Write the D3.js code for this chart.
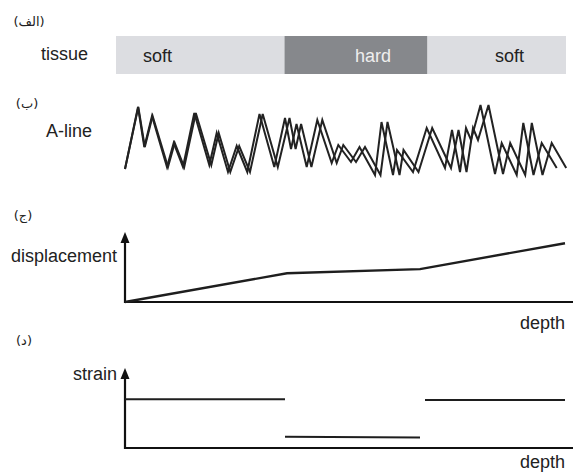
<!DOCTYPE html>
<html>
<head>
<meta charset="utf-8">
<script src="https://cdn.jsdelivr.net/npm/d3@7/dist/d3.min.js"></script>
<style>
  html, body { margin: 0; padding: 0; background: #fff; }
  svg { display: block; }
  text { font-family: "Liberation Sans", Arial, Helvetica, sans-serif; fill: #222; }
  .tag { font-family: "DejaVu Sans", sans-serif; font-size: 13px; }
</style>
</head>
<body>
<svg id="chart" width="573" height="472"></svg>
<script>
// Tissue layout along depth (arbitrary depth units)
const tissueTypes = ["soft", "hard", "soft"];
const tissueFrom  = [-0.9, 15.95, 30.25];
const tissueTo    = [15.95, 30.25, 44.1];

// A-line echo before compression: depth and amplitude of each vertex
const preDepth = [0, 1.3, 1.93, 2.7, 4.2, 4.87, 5.8, 6.93, 8.43, 9.17, 10.3, 11.17, 12.23, 13.45,
  14.93, 16.0, 16.6, 17.15, 18.17, 19.23, 20.67, 21.33, 22.6, 23.45, 25.0, 25.65, 26.8, 27.2,
  28.8, 30.17, 32.0, 32.7, 33.5, 34.1, 34.6, 35.55, 37.0, 37.67, 39.17, 39.83, 40.85, 41.67, 43.17];
const amplitude = [-29, 33, -7, 24, -27, -3, -27, 27, -25, 7, -32, -6, -32, 26,
  -27, 22, -9, 16, -27, 20, -23, -5, -22, -7, -35, 18, -35, -10,
  -32, 12, -28, 10, -32, 12, 0, 35, -34, -3, -35, 17, -35, -3, -28];
// Same echo after compression (shifted deeper)
const postDepth = [0, 1.33, 1.98, 2.76, 4.3, 4.97, 5.92, 7.08, 8.63, 9.37, 10.53, 11.42, 12.5, 13.77,
  15.28, 16.45, 17.06, 17.61, 18.64, 19.73, 21.17, 21.83, 23.1, 24.0, 25.55, 26.25, 27.45, 27.85,
  29.35, 30.72, 32.6, 33.35, 34.15, 34.8, 35.3, 36.35, 37.8, 38.52, 40.02, 40.68, 41.75, 42.67, 44.12];

// Displacement versus depth
const dispDepth = [0, 16.2, 29.5, 44];
const dispValue = [0, 4.1, 4.7, 8.4];

// Strain per tissue section
const strainFrom  = [0, 16, 30];
const strainTo    = [16, 29.5, 44];
const strainStart = [6.1, 1.4, 6.0];
const strainEnd   = [6.1, 1.3, 6.0];

// Panel tags and axis labels
const panelTags = ["(الف)", "(ب)", "(ج)", "(د)"];
const rowLabels = ["tissue", "A-line", "displacement", "strain"];
const depthLabel = "depth";

const svg = d3.select("#chart");
const ink = "#1e1e1e";

const x = d3.scaleLinear().domain([-1, 44]).range([115, 565]);

// ---- (a) tissue bar
const barTop = 36, barH = 38;
const tissueColor = { soft: "#dcdde1", hard: "#86888c" };
const tissueTextColor = { soft: "#222", hard: "#eeeeee" };
const tissueLabelDepth = [1.8, 23.0, 37.0];

svg.append("g").selectAll("rect")
  .data(tissueTypes)
  .join("rect")
  .attr("x", (d, i) => x(tissueFrom[i]))
  .attr("y", barTop)
  .attr("width", (d, i) => x(tissueTo[i]) - x(tissueFrom[i]))
  .attr("height", barH)
  .attr("fill", d => tissueColor[d]);

svg.append("g").selectAll("text")
  .data(tissueTypes)
  .join("text")
  .attr("x", (d, i) => x(tissueLabelDepth[i]))
  .attr("y", 62)
  .attr("font-size", 18)
  .style("fill", d => tissueTextColor[d])
  .text(d => d);

// ---- (b) A-line echoes
const yA = d3.scaleLinear().domain([-40, 40]).range([180, 100]);
const aLine = d3.line().x(d => x(d[0])).y(d => yA(d[1]));
const preTrace = preDepth.map((d, i) => [d, amplitude[i]]);
const postTrace = postDepth.map((d, i) => [d, amplitude[i]]);

svg.append("g").selectAll("path")
  .data([preTrace, postTrace])
  .join("path")
  .attr("d", aLine)
  .attr("fill", "none")
  .attr("stroke", "#222")
  .attr("stroke-width", 2)
  .attr("stroke-linejoin", "miter");

// ---- axes helper
function drawAxes(y, xEnd) {
  const g = svg.append("g");
  const x0 = x(0), y0 = y(0), yTop = y(10);
  g.append("line")
    .attr("x1", x0).attr("x2", x0)
    .attr("y1", y0 + 1).attr("y2", yTop + 9)
    .attr("stroke", "#111").attr("stroke-width", 2.2);
  g.append("line")
    .attr("x1", x0 - 1).attr("x2", xEnd)
    .attr("y1", y0).attr("y2", y0)
    .attr("stroke", "#111").attr("stroke-width", 2.2);
  g.append("path")
    .attr("d", `M${x0},${yTop} L${x0 + 4.5},${yTop + 11} L${x0 - 4.5},${yTop + 11} Z`)
    .attr("fill", "#111");
}

// ---- (c) displacement
const yD = d3.scaleLinear().domain([0, 10]).range([302, 232]);
drawAxes(yD, 573);
svg.append("path")
  .datum(dispDepth.map((d, i) => [d, dispValue[i]]))
  .attr("d", d3.line().x(d => x(d[0])).y(d => yD(d[1])))
  .attr("fill", "none")
  .attr("stroke", ink)
  .attr("stroke-width", 2.4);

// ---- (d) strain
const yS = d3.scaleLinear().domain([0, 10]).range([448, 368]);
drawAxes(yS, 573);
svg.append("g").selectAll("line")
  .data(strainFrom)
  .join("line")
  .attr("x1", (d, i) => x(strainFrom[i]))
  .attr("x2", (d, i) => x(strainTo[i]))
  .attr("y1", (d, i) => yS(strainStart[i]))
  .attr("y2", (d, i) => yS(strainEnd[i]))
  .attr("stroke", ink)
  .attr("stroke-width", 2);

// ---- labels
const tagPos = [[29, 26], [27, 108], [23, 220], [24, 345]];
svg.append("g").selectAll("text")
  .data(panelTags)
  .join("text")
  .attr("class", "tag")
  .attr("x", (d, i) => tagPos[i][0])
  .attr("y", (d, i) => tagPos[i][1])
  .attr("text-anchor", "middle")
  .text(d => d);

const rowPos = [[88, 60], [92, 137], [117, 262], [117, 380]];
svg.append("g").selectAll("text")
  .data(rowLabels)
  .join("text")
  .attr("x", (d, i) => rowPos[i][0])
  .attr("y", (d, i) => rowPos[i][1])
  .attr("text-anchor", "end")
  .attr("font-size", 18)
  .text(d => d);

svg.append("g").selectAll("text")
  .data([329, 468])
  .join("text")
  .attr("x", 565)
  .attr("y", d => d)
  .attr("text-anchor", "end")
  .attr("font-size", 18)
  .text(depthLabel);
</script>
</body>
</html>
